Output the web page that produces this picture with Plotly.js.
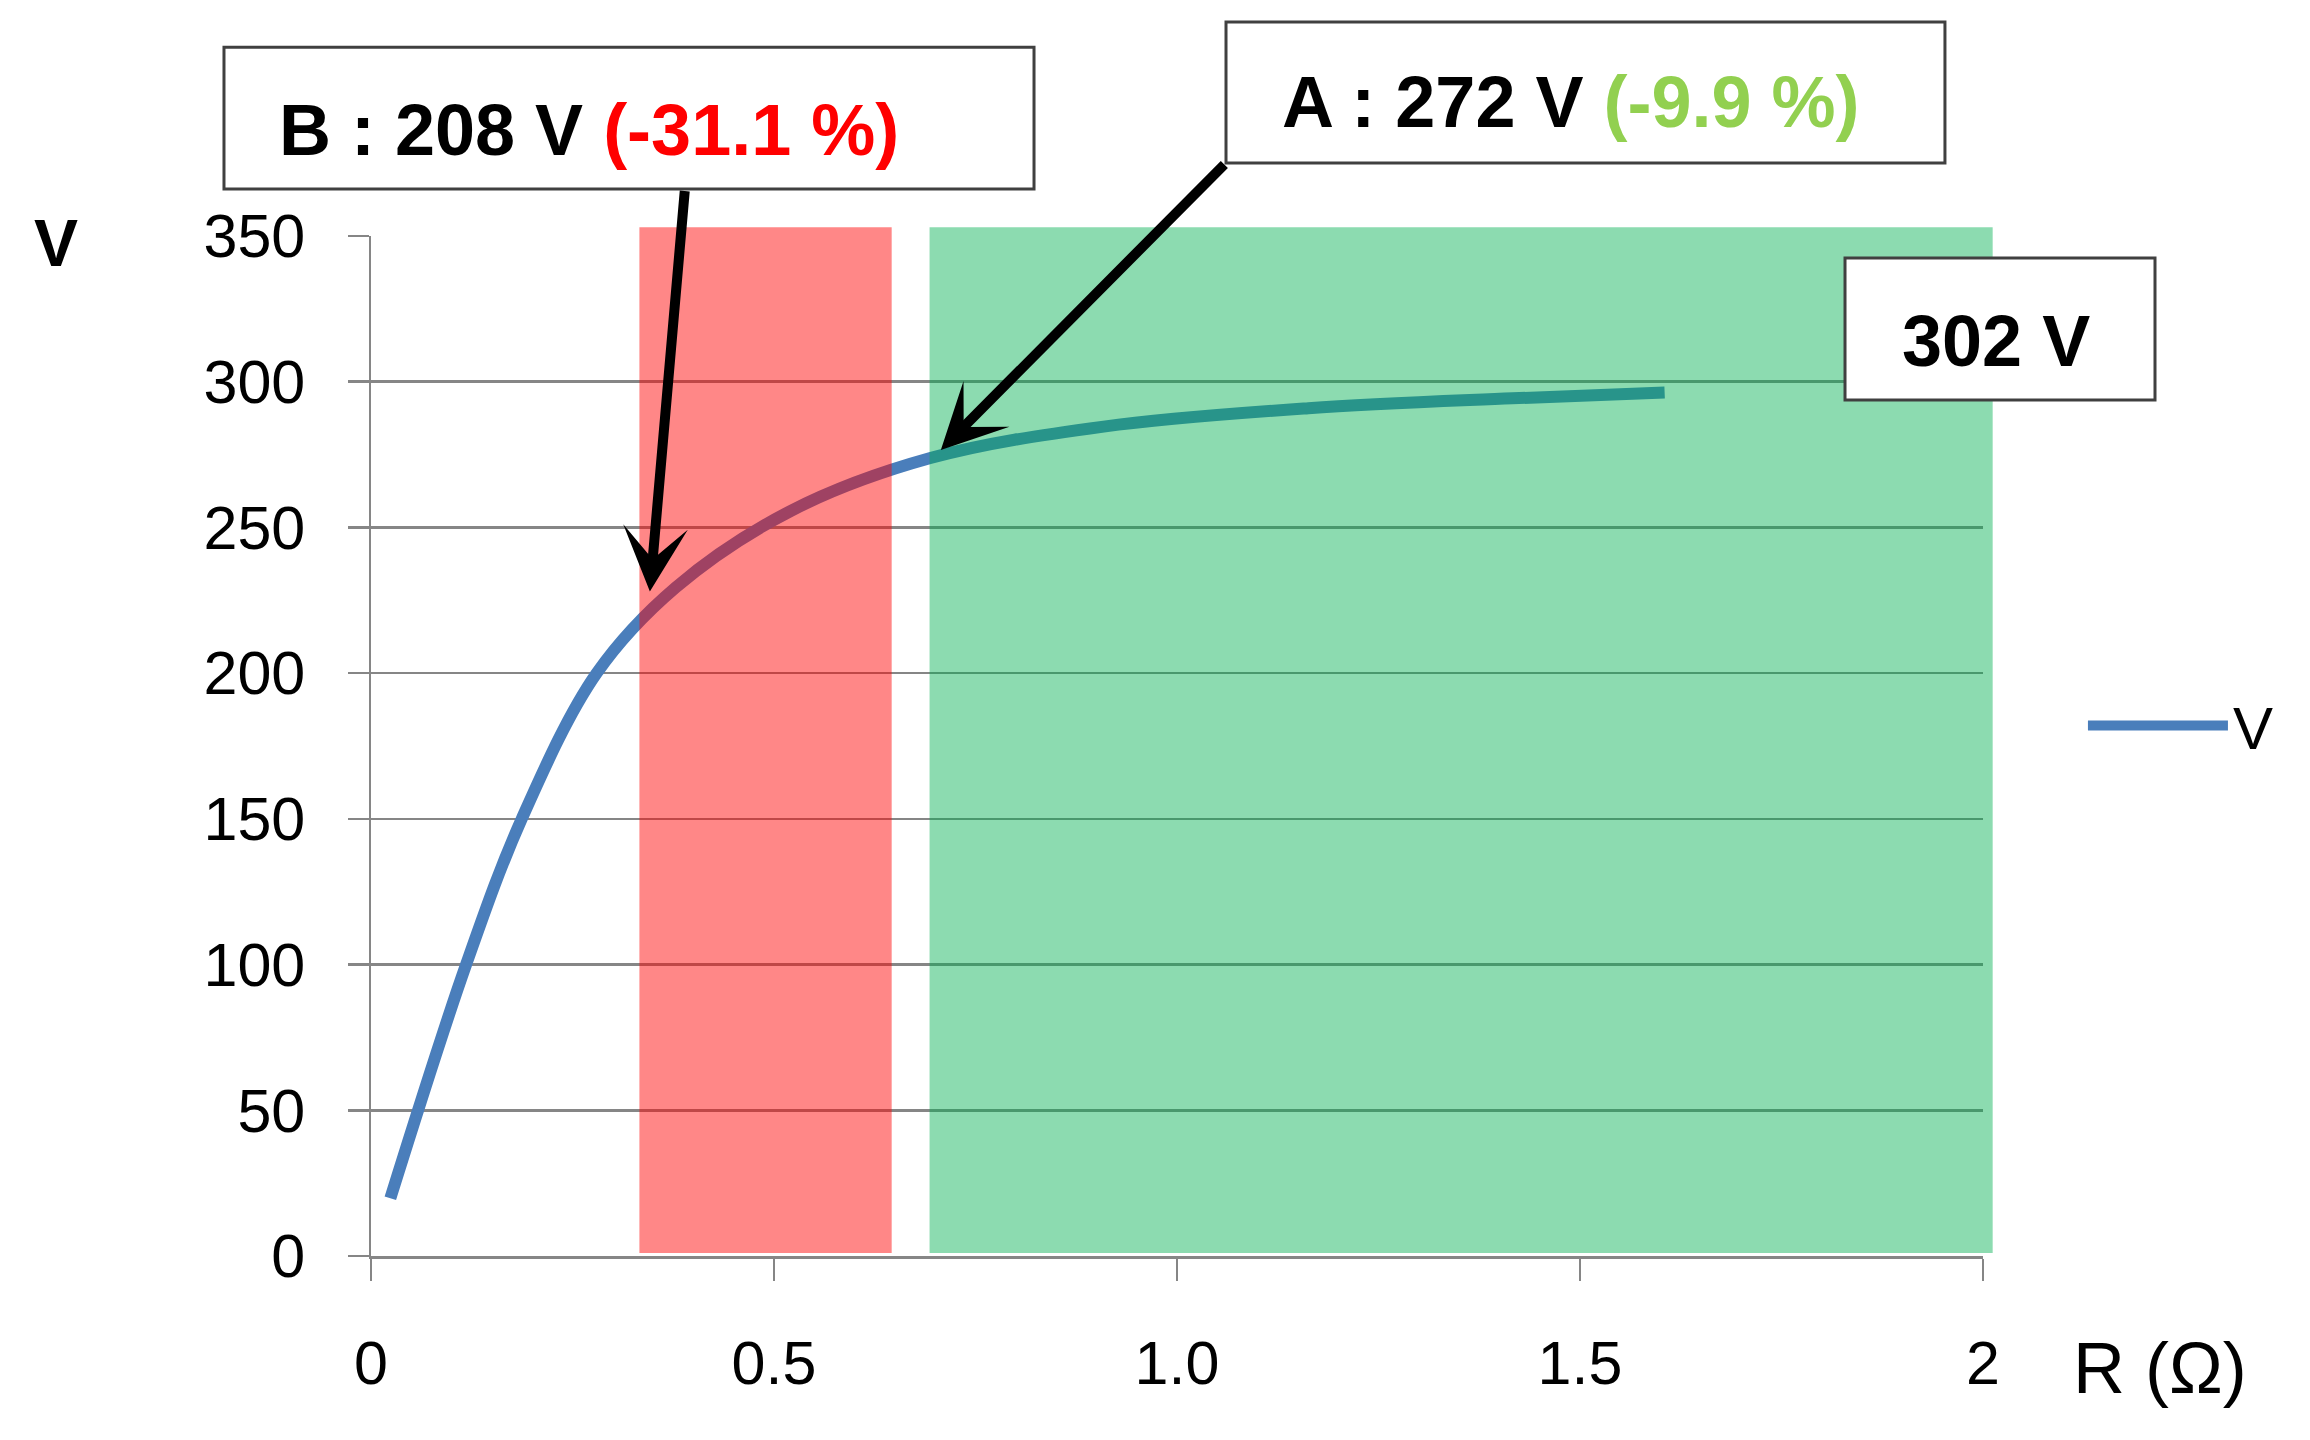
<!DOCTYPE html>
<html>
<head>
<meta charset="utf-8">
<script src="https://cdn.plot.ly/plotly-3.0.1.min.js"></script>
<style>html,body{margin:0;padding:0;background:#fff}#chart{width:2310px;height:1440px}</style>
</head>
<body>
<div id="chart"></div>
<script>
// Data
const R = [0.024, 0.118, 0.187, 0.28, 0.378, 0.521, 0.694, 0.909, 1.163, 1.416, 1.605];
const V = [19.8, 100, 150, 200, 229.4, 255.7, 273.8, 284.6, 290.9, 294.3, 296.3];
const xTickVals = [0, 0.5, 1, 1.5, 2];
const xTickText = ['0', '0.5', '1.0', '1.5', '2'];
const yTickVals = [0, 50, 100, 150, 200, 250, 300, 350];
const redZone = [0.333, 0.646];
const greenZone = [0.693, 2.012];
const zoneTop = 353;
const pointB = {R: 0.346, V: 228, label: 'B : 208 V ', pct: '(-31.1 %)'};
const pointA = {R: 0.707, V: 276.6, label: 'A : 272 V ', pct: '(-9.9 %)'};
const refLabel = '302 V';

const X_RANGE = [0, 2], Y_RANGE = [0, 350];
const px = v => (v - X_RANGE[0]) / (X_RANGE[1] - X_RANGE[0]);
const py = v => (v - Y_RANGE[0]) / (Y_RANGE[1] - Y_RANGE[0]);

const FONT = 'Liberation Sans, Arial, sans-serif';
const GRID = '#868686';

const trace = {
  x: R, y: V, type: 'scatter', mode: 'lines', name: 'V',
  line: {color: '#4A7EBB', width: 12, shape: 'spline', smoothing: 1}
};

const boxLine = {color: '#404040', width: 3};
const shapes = [
  {type: 'rect', xref: 'paper', yref: 'paper', x0: px(redZone[0]), x1: px(redZone[1]), y0: 0.003, y1: py(zoneTop),
   fillcolor: '#FF0000', opacity: 0.47, line: {width: 0}, layer: 'above'},
  {type: 'rect', xref: 'paper', yref: 'paper', x0: px(greenZone[0]), x1: px(greenZone[1]), y0: 0.003, y1: py(zoneTop),
   fillcolor: '#00B050', opacity: 0.45, line: {width: 0}, layer: 'above'},
  // label boxes
  {type: 'rect', xref: 'paper', yref: 'paper', x0: -0.0912, x1: 0.4113, y0: 1.046, y1: 1.185,
   fillcolor: '#FFFFFF', line: boxLine, layer: 'above'},
  {type: 'rect', xref: 'paper', yref: 'paper', x0: 0.5304, x1: 0.9764, y0: 1.0716, y1: 1.2098,
   fillcolor: '#FFFFFF', line: boxLine, layer: 'above'},
  {type: 'rect', xref: 'paper', yref: 'paper', x0: 0.9144, x1: 1.1067, y0: 0.8392, y1: 0.9784,
   fillcolor: '#FFFFFF', line: boxLine, layer: 'above'}
];

const boxFont = {family: FONT, size: 72, color: '#000000', weight: 'bold'};
const annotations = [
  {xref: 'paper', yref: 'paper', x: -0.0583, y: 1.104, xanchor: 'left', yanchor: 'middle', showarrow: false,
   text: '<b>' + pointB.label + '<span style="color:#FF0000">' + pointB.pct + '</span></b>', font: boxFont},
  {xref: 'paper', yref: 'paper', x: 0.5639, y: 1.1314, xanchor: 'left', yanchor: 'middle', showarrow: false,
   text: '<b>' + pointA.label + '<span style="color:#92D050">' + pointA.pct + '</span></b>', font: boxFont},
  {xref: 'paper', yref: 'paper', x: 0.9485, y: 0.897, xanchor: 'left', yanchor: 'middle', showarrow: false,
   text: '<b>' + refLabel + '</b>', font: boxFont},
  // arrows
  {xref: 'x', yref: 'y', x: pointB.R, y: pointB.V, ax: 35, ay: -402, text: '', showarrow: true,
   arrowhead: 3, arrowsize: 1.08, arrowwidth: 10, arrowcolor: '#000000', standoff: 0},
  {xref: 'x', yref: 'y', x: pointA.R, y: pointA.V, ax: 285, ay: -287, text: '', showarrow: true,
   arrowhead: 3, arrowsize: 1.08, arrowwidth: 10, arrowcolor: '#000000', standoff: 0},
  // axis titles
  {xref: 'paper', yref: 'paper', x: -0.1954, y: 0.993, xanchor: 'center', yanchor: 'middle', showarrow: false,
   text: '<b>V</b>', font: {family: FONT, size: 66, color: '#000000'}},
  {xref: 'paper', yref: 'paper', x: 1.1098, y: -0.1098, xanchor: 'center', yanchor: 'middle', showarrow: false,
   text: 'R (Ω)', font: {family: FONT, size: 72, color: '#000000'}}
];

const layout = {
  width: 2310, height: 1440,
  margin: {l: 371, r: 327, t: 236, b: 184, pad: 0},
  paper_bgcolor: '#FFFFFF', plot_bgcolor: '#FFFFFF',
  font: {family: FONT, size: 61, color: '#000000'},
  showlegend: true,
  legend: {x: 1.062, y: 0.52, xanchor: 'left', yanchor: 'middle', itemwidth: 140,
           font: {family: FONT, size: 60, color: '#000000'}, bgcolor: 'rgba(0,0,0,0)'},
  xaxis: {range: X_RANGE, tickvals: xTickVals, ticktext: xTickText, showgrid: false, zeroline: false,
          showline: true, linecolor: GRID, linewidth: 2.5, ticks: 'outside', ticklen: 22, tickwidth: 2.5,
          tickcolor: GRID, ticklabelstandoff: 30, tickfont: {family: FONT, size: 61, color: '#000000'}},
  yaxis: {range: Y_RANGE, tickvals: yTickVals, showgrid: true, gridcolor: GRID, gridwidth: 2.5, zeroline: false,
          showline: true, linecolor: GRID, linewidth: 2.5, ticks: 'outside', ticklen: 21, tickwidth: 2.5,
          tickcolor: GRID, ticklabelstandoff: 30, tickfont: {family: FONT, size: 61, color: '#000000'}},
  shapes: shapes,
  annotations: annotations
};

Plotly.newPlot('chart', [trace], layout, {staticPlot: true});
</script>
</body>
</html>
